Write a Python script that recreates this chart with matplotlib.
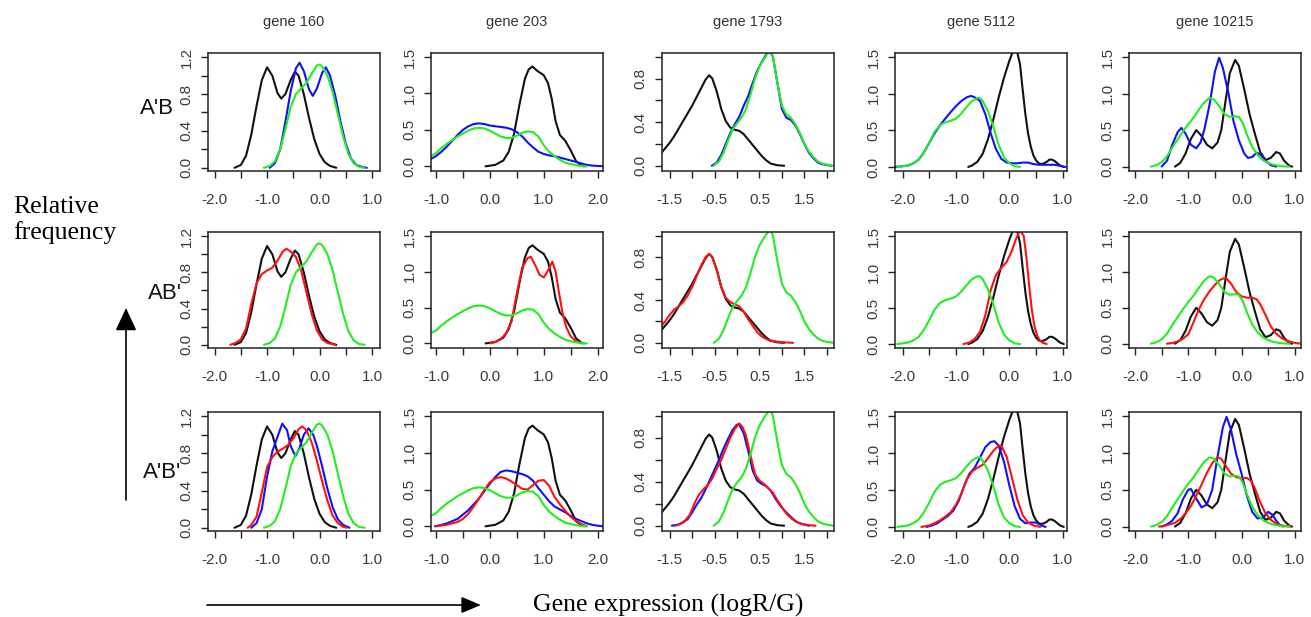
import matplotlib
matplotlib.use("Agg")
import matplotlib.pyplot as plt
from matplotlib.patches import FancyArrowPatch, ArrowStyle

plt.rcParams['font.family'] = ['Liberation Sans', 'DejaVu Sans']

# ---------------- data ----------------
GENES = ['gene 160', 'gene 203', 'gene 1793', 'gene 5112', 'gene 10215']
ROW_LABELS = ["A'B", "AB'", "A'B'"]

X_LIMS = [(-2.125, 1.152), (-1.093, 2.10), (-1.67, 2.16), (-2.143, 1.08), (-2.112, 1.116)]
Y_LIMS = [(-0.035, 1.245), (-0.064, 1.555), (-0.048, 1.034), (-0.055, 1.555), (-0.06, 1.555)]

X_TICKS = [
    [-2.0, -1.5, -1.0, -0.5, 0.0, 0.5, 1.0],
    [-1.0, -0.5, 0.0, 0.5, 1.0, 1.5, 2.0],
    [-1.5, -1.0, -0.5, 0.0, 0.5, 1.0, 1.5, 2.0],
    [-2.0, -1.5, -1.0, -0.5, 0.0, 0.5, 1.0],
    [-2.0, -1.5, -1.0, -0.5, 0.0, 0.5, 1.0],
]
X_TICK_LABELS = [
    ['-2.0', '', '-1.0', '', '0.0', '', '1.0'],
    ['-1.0', '', '0.0', '', '1.0', '', '2.0'],
    ['-1.5', '', '-0.5', '', '0.5', '', '1.5', ''],
    ['-2.0', '', '-1.0', '', '0.0', '', '1.0'],
    ['-2.0', '', '-1.0', '', '0.0', '', '1.0'],
]
Y_TICKS = [
    [0.0, 0.2, 0.4, 0.6, 0.8, 1.0, 1.2],
    [0.0, 0.5, 1.0, 1.5],
    [0.0, 0.2, 0.4, 0.6, 0.8, 1.0],
    [0.0, 0.5, 1.0, 1.5],
    [0.0, 0.5, 1.0, 1.5],
]
Y_TICK_LABELS = [
    ['0.0', '', '0.4', '', '0.8', '', '1.2'],
    ['0.0', '0.5', '1.0', '1.5'],
    ['0.0', '', '0.4', '', '0.8', ''],
    ['0.0', '0.5', '1.0', '1.5'],
    ['0.0', '0.5', '1.0', '1.5'],
]

# ---- gene 160 ----
BLACK_160 = [(-1.62, 0.0), (-1.5, 0.03), (-1.4, 0.13), (-1.3, 0.36), (-1.2, 0.67), (-1.1, 0.95),
             (-1.0, 1.09), (-0.9, 1.0), (-0.8, 0.81), (-0.73, 0.75), (-0.65, 0.8), (-0.55, 0.95),
             (-0.47, 1.04), (-0.4, 1.0), (-0.3, 0.8), (-0.2, 0.54), (-0.1, 0.31), (0.0, 0.15),
             (0.1, 0.06), (0.2, 0.02), (0.32, 0.0)]
GREEN_160 = [(-1.06, 0.0), (-0.95, 0.02), (-0.85, 0.07), (-0.75, 0.2), (-0.65, 0.42), (-0.55, 0.66),
             (-0.45, 0.8), (-0.35, 0.86), (-0.25, 0.92), (-0.15, 1.02), (-0.05, 1.11), (0.0, 1.12),
             (0.05, 1.1), (0.15, 1.0), (0.25, 0.82), (0.35, 0.58), (0.45, 0.34), (0.55, 0.15),
             (0.65, 0.05), (0.75, 0.01), (0.86, 0.0)]
BLUE1_160 = [(-0.95, 0.0), (-0.85, 0.05), (-0.75, 0.2), (-0.65, 0.5), (-0.55, 0.83), (-0.45, 1.08),
             (-0.38, 1.14), (-0.3, 1.05), (-0.2, 0.85), (-0.13, 0.78), (-0.05, 0.86), (0.05, 1.03),
             (0.12, 1.09), (0.2, 1.0), (0.3, 0.78), (0.4, 0.5), (0.5, 0.26), (0.6, 0.1),
             (0.7, 0.03), (0.8, 0.01), (0.9, 0.0)]
RED2_160 = [(-1.7, 0.0), (-1.6, 0.02), (-1.5, 0.06), (-1.4, 0.18), (-1.3, 0.45), (-1.2, 0.68),
            (-1.1, 0.78), (-1.0, 0.82), (-0.9, 0.85), (-0.8, 0.93), (-0.7, 1.03), (-0.63, 1.06),
            (-0.55, 1.03), (-0.45, 0.97), (-0.35, 0.82), (-0.25, 0.58), (-0.15, 0.34), (-0.05, 0.16),
            (0.05, 0.06), (0.15, 0.02), (0.3, 0.0)]
BLUE3_160 = [(-1.3, 0.0), (-1.2, 0.05), (-1.1, 0.2), (-1.0, 0.55), (-0.9, 0.82), (-0.8, 0.98),
             (-0.71, 1.12), (-0.62, 1.05), (-0.55, 0.88), (-0.46, 0.77), (-0.38, 0.86), (-0.3, 1.0),
             (-0.21, 1.07), (-0.12, 1.0), (-0.05, 0.88), (0.05, 0.66), (0.15, 0.42), (0.25, 0.22),
             (0.35, 0.09), (0.45, 0.03), (0.57, 0.0)]
RED3_160 = [(-1.37, 0.0), (-1.3, 0.03), (-1.2, 0.12), (-1.1, 0.38), (-1.0, 0.65), (-0.9, 0.76),
            (-0.8, 0.82), (-0.7, 0.85), (-0.6, 0.89), (-0.5, 0.96), (-0.4, 1.06), (-0.33, 1.09),
            (-0.25, 1.05), (-0.15, 0.92), (-0.05, 0.72), (0.05, 0.5), (0.15, 0.29), (0.25, 0.13),
            (0.35, 0.05), (0.45, 0.01), (0.52, 0.0)]

# ---- gene 203 ----
BLACK_203 = [(-0.08, 0.0), (0.1, 0.02), (0.25, 0.08), (0.35, 0.2), (0.45, 0.45), (0.55, 0.85),
             (0.65, 1.2), (0.72, 1.33), (0.79, 1.37), (0.88, 1.31), (1.0, 1.25), (1.08, 1.14),
             (1.15, 0.92), (1.22, 0.62), (1.3, 0.43), (1.4, 0.35), (1.5, 0.22), (1.6, 0.07),
             (1.7, 0.01), (1.75, 0.0)]
GREEN_203 = [(-1.2, 0.1), (-1.1, 0.14), (-1.0, 0.18), (-0.9, 0.25), (-0.8, 0.31), (-0.7, 0.36),
             (-0.6, 0.41), (-0.5, 0.45), (-0.4, 0.49), (-0.3, 0.52), (-0.2, 0.53), (-0.1, 0.52),
             (0.0, 0.49), (0.1, 0.45), (0.2, 0.41), (0.3, 0.39), (0.4, 0.39), (0.5, 0.42),
             (0.6, 0.46), (0.7, 0.48), (0.8, 0.47), (0.9, 0.41), (1.0, 0.29), (1.1, 0.2),
             (1.2, 0.14), (1.3, 0.09), (1.4, 0.05), (1.5, 0.03), (1.6, 0.015), (1.7, 0.005), (1.8, 0.0)]
BLUE1_203 = [(-1.2, 0.07), (-1.1, 0.1), (-1.0, 0.14), (-0.9, 0.2), (-0.8, 0.27), (-0.7, 0.35),
             (-0.6, 0.43), (-0.5, 0.5), (-0.4, 0.55), (-0.3, 0.58), (-0.2, 0.59), (-0.1, 0.58),
             (0.0, 0.56), (0.1, 0.55), (0.2, 0.54), (0.3, 0.53), (0.4, 0.51), (0.5, 0.47),
             (0.6, 0.41), (0.7, 0.33), (0.8, 0.26), (0.9, 0.2), (1.0, 0.17), (1.1, 0.15),
             (1.2, 0.14), (1.3, 0.12), (1.4, 0.1), (1.5, 0.08), (1.6, 0.06), (1.7, 0.04),
             (1.8, 0.02), (1.9, 0.01), (2.0, 0.005), (2.2, 0.0)]
RED2_203 = [(0.0, 0.0), (0.1, 0.02), (0.2, 0.06), (0.3, 0.14), (0.4, 0.3), (0.5, 0.7),
            (0.6, 1.06), (0.7, 1.19), (0.76, 1.21), (0.85, 1.08), (0.92, 0.96), (1.0, 0.92),
            (1.08, 1.02), (1.16, 1.14), (1.22, 1.0), (1.28, 0.72), (1.35, 0.42), (1.42, 0.22),
            (1.5, 0.1), (1.6, 0.03), (1.7, 0.0)]
BLUE3_203 = [(-1.02, 0.0), (-0.9, 0.02), (-0.8, 0.04), (-0.6, 0.1), (-0.4, 0.22), (-0.2, 0.38),
             (-0.1, 0.48), (0.0, 0.58), (0.1, 0.67), (0.2, 0.74), (0.3, 0.76), (0.4, 0.75),
             (0.5, 0.73), (0.6, 0.71), (0.7, 0.68), (0.8, 0.62), (0.9, 0.52), (1.0, 0.43),
             (1.1, 0.34), (1.2, 0.27), (1.3, 0.23), (1.4, 0.19), (1.5, 0.14), (1.6, 0.1),
             (1.7, 0.07), (1.8, 0.04), (1.9, 0.02), (2.0, 0.008), (2.1, 0.0)]
RED3_203 = [(-1.0, 0.0), (-0.8, 0.02), (-0.6, 0.06), (-0.5, 0.1), (-0.4, 0.17), (-0.3, 0.27),
            (-0.2, 0.38), (-0.1, 0.5), (0.0, 0.6), (0.1, 0.65), (0.2, 0.67), (0.3, 0.65),
            (0.4, 0.61), (0.5, 0.56), (0.6, 0.51), (0.7, 0.5), (0.8, 0.56), (0.9, 0.62),
            (1.0, 0.63), (1.1, 0.55), (1.2, 0.4), (1.3, 0.3), (1.4, 0.21), (1.5, 0.13),
            (1.6, 0.07), (1.7, 0.03), (1.8, 0.0)]

# ---- gene 1793 ----
BLACK_1793 = [(-1.8, 0.06), (-1.7, 0.11), (-1.6, 0.16), (-1.5, 0.21), (-1.4, 0.27), (-1.3, 0.34),
              (-1.2, 0.41), (-1.1, 0.48), (-1.0, 0.55), (-0.9, 0.63), (-0.8, 0.71), (-0.7, 0.79),
              (-0.62, 0.83), (-0.55, 0.8), (-0.45, 0.68), (-0.35, 0.52), (-0.25, 0.41), (-0.15, 0.35),
              (-0.05, 0.33), (0.05, 0.32), (0.15, 0.29), (0.25, 0.24), (0.35, 0.19), (0.45, 0.14),
              (0.55, 0.09), (0.65, 0.05), (0.75, 0.02), (0.9, 0.005), (1.05, 0.0)]
GREEN_1793 = [(-0.52, 0.0), (-0.4, 0.04), (-0.3, 0.12), (-0.2, 0.23), (-0.1, 0.33), (0.0, 0.39),
              (0.1, 0.44), (0.2, 0.52), (0.3, 0.65), (0.4, 0.8), (0.5, 0.91), (0.6, 0.98),
              (0.7, 1.04), (0.75, 1.05), (0.8, 1.0), (0.9, 0.76), (1.0, 0.55), (1.1, 0.47),
              (1.2, 0.44), (1.3, 0.38), (1.4, 0.3), (1.5, 0.2), (1.6, 0.13), (1.7, 0.08),
              (1.8, 0.04), (1.9, 0.02), (2.0, 0.01), (2.15, 0.0)]
BLUE1_1793 = [(-0.56, 0.0), (-0.45, 0.03), (-0.35, 0.1), (-0.25, 0.2), (-0.15, 0.3), (-0.05, 0.38),
              (0.05, 0.45), (0.15, 0.55), (0.25, 0.64), (0.35, 0.76), (0.45, 0.87), (0.55, 0.95),
              (0.65, 1.02), (0.73, 1.05), (0.8, 1.0), (0.9, 0.76), (1.0, 0.52), (1.1, 0.44),
              (1.2, 0.42), (1.3, 0.37), (1.4, 0.29), (1.5, 0.2), (1.6, 0.12), (1.7, 0.07),
              (1.8, 0.03), (1.9, 0.015), (2.1, 0.0)]
RED2_1793 = [(-1.8, 0.1), (-1.7, 0.15), (-1.6, 0.2), (-1.5, 0.26), (-1.4, 0.31), (-1.3, 0.34),
             (-1.2, 0.38), (-1.1, 0.44), (-1.0, 0.52), (-0.9, 0.62), (-0.8, 0.72), (-0.7, 0.8),
             (-0.62, 0.83), (-0.55, 0.8), (-0.45, 0.68), (-0.35, 0.52), (-0.25, 0.42), (-0.15, 0.38),
             (-0.05, 0.36), (0.05, 0.34), (0.15, 0.29), (0.25, 0.22), (0.35, 0.16), (0.45, 0.1),
             (0.55, 0.06), (0.65, 0.035), (0.75, 0.02), (0.9, 0.01), (1.05, 0.005), (1.25, 0.0)]
BLUE3_1793 = [(-1.45, 0.0), (-1.3, 0.01), (-1.2, 0.03), (-1.1, 0.06), (-1.0, 0.12), (-0.9, 0.19),
              (-0.8, 0.25), (-0.7, 0.33), (-0.6, 0.42), (-0.5, 0.51), (-0.4, 0.6), (-0.3, 0.7),
              (-0.2, 0.79), (-0.1, 0.87), (0.0, 0.92), (0.05, 0.92), (0.15, 0.84), (0.25, 0.68),
              (0.35, 0.5), (0.45, 0.41), (0.55, 0.38), (0.65, 0.36), (0.75, 0.32), (0.85, 0.25),
              (0.95, 0.19), (1.05, 0.14), (1.15, 0.1), (1.25, 0.06), (1.35, 0.03), (1.45, 0.015),
              (1.6, 0.0)]
RED3_1793 = [(-1.37, 0.0), (-1.25, 0.02), (-1.15, 0.05), (-1.05, 0.1), (-0.95, 0.2), (-0.85, 0.28),
             (-0.75, 0.33), (-0.65, 0.37), (-0.55, 0.43), (-0.45, 0.52), (-0.35, 0.6), (-0.25, 0.7),
             (-0.15, 0.8), (-0.05, 0.88), (0.05, 0.93), (0.12, 0.9), (0.2, 0.82), (0.3, 0.64),
             (0.4, 0.47), (0.5, 0.41), (0.6, 0.38), (0.7, 0.34), (0.8, 0.3), (0.9, 0.23),
             (1.0, 0.17), (1.1, 0.11), (1.2, 0.07), (1.3, 0.04), (1.45, 0.015), (1.6, 0.005),
             (1.75, 0.0)]

# ---- gene 5112 ----
BLACK_5112 = [(-0.77, 0.0), (-0.7, 0.02), (-0.6, 0.07), (-0.5, 0.18), (-0.4, 0.38), (-0.3, 0.65),
              (-0.2, 0.95), (-0.1, 1.22), (0.0, 1.45), (0.08, 1.6), (0.13, 1.62), (0.2, 1.4),
              (0.25, 1.05), (0.3, 0.72), (0.35, 0.46), (0.4, 0.28), (0.45, 0.16), (0.5, 0.09),
              (0.55, 0.05), (0.6, 0.04), (0.65, 0.05), (0.7, 0.07), (0.75, 0.1), (0.8, 0.1),
              (0.85, 0.08), (0.9, 0.05), (0.95, 0.02), (1.02, 0.0)]
GREEN_5112 = [(-2.1, 0.0), (-2.0, 0.01), (-1.9, 0.02), (-1.8, 0.05), (-1.7, 0.1), (-1.6, 0.2),
              (-1.5, 0.33), (-1.4, 0.48), (-1.3, 0.57), (-1.2, 0.61), (-1.1, 0.63), (-1.0, 0.66),
              (-0.9, 0.73), (-0.8, 0.82), (-0.7, 0.9), (-0.6, 0.94), (-0.55, 0.94), (-0.5, 0.9),
              (-0.4, 0.76), (-0.3, 0.55), (-0.2, 0.3), (-0.1, 0.13), (0.0, 0.05), (0.1, 0.01),
              (0.2, 0.0)]
BLUE1_5112 = [(-2.15, 0.0), (-2.0, 0.01), (-1.9, 0.02), (-1.8, 0.05), (-1.7, 0.1), (-1.6, 0.2),
              (-1.5, 0.33), (-1.4, 0.46), (-1.3, 0.57), (-1.2, 0.66), (-1.1, 0.75), (-1.0, 0.83),
              (-0.9, 0.9), (-0.8, 0.95), (-0.72, 0.97), (-0.65, 0.95), (-0.55, 0.9), (-0.45, 0.72),
              (-0.35, 0.46), (-0.25, 0.24), (-0.15, 0.11), (-0.05, 0.06), (0.05, 0.05), (0.15, 0.05),
              (0.25, 0.06), (0.35, 0.06), (0.45, 0.04), (0.55, 0.03), (0.65, 0.03), (0.75, 0.03),
              (0.85, 0.03), (0.95, 0.015), (1.05, 0.0)]
RED2_5112 = [(-0.86, 0.0), (-0.75, 0.02), (-0.65, 0.07), (-0.55, 0.17), (-0.45, 0.4), (-0.35, 0.75),
             (-0.25, 0.96), (-0.15, 1.06), (-0.05, 1.14), (0.05, 1.3), (0.12, 1.45), (0.2, 1.58),
             (0.27, 1.5), (0.32, 1.2), (0.37, 0.82), (0.42, 0.48), (0.47, 0.25), (0.52, 0.12),
             (0.57, 0.05), (0.62, 0.02), (0.7, 0.0)]
BLUE3_5112 = [(-1.55, 0.0), (-1.45, 0.02), (-1.35, 0.05), (-1.25, 0.1), (-1.15, 0.15), (-1.05, 0.22),
              (-0.95, 0.35), (-0.85, 0.55), (-0.75, 0.72), (-0.65, 0.8), (-0.55, 0.94), (-0.45, 1.08),
              (-0.35, 1.15), (-0.28, 1.16), (-0.2, 1.1), (-0.1, 0.88), (0.0, 0.56), (0.1, 0.28),
              (0.2, 0.11), (0.3, 0.05), (0.4, 0.06), (0.5, 0.06), (0.6, 0.02), (0.68, 0.0)]
RED3_5112 = [(-1.65, 0.0), (-1.5, 0.02), (-1.4, 0.05), (-1.3, 0.09), (-1.2, 0.14), (-1.1, 0.2),
             (-1.0, 0.3), (-0.9, 0.45), (-0.8, 0.64), (-0.7, 0.75), (-0.6, 0.8), (-0.5, 0.84),
             (-0.4, 0.93), (-0.3, 1.03), (-0.2, 1.1), (-0.15, 1.1), (-0.05, 0.95), (0.05, 0.66),
             (0.15, 0.37), (0.25, 0.16), (0.35, 0.06), (0.45, 0.02), (0.58, 0.0)]

# ---- gene 10215 ----
BLACK_10215 = [(-1.25, 0.0), (-1.15, 0.05), (-1.05, 0.18), (-0.95, 0.38), (-0.85, 0.5), (-0.75, 0.42),
               (-0.65, 0.3), (-0.55, 0.25), (-0.45, 0.33), (-0.38, 0.5), (-0.3, 0.9), (-0.22, 1.28),
               (-0.12, 1.46), (-0.05, 1.38), (0.05, 1.06), (0.15, 0.72), (0.25, 0.45), (0.35, 0.2),
               (0.45, 0.09), (0.55, 0.12), (0.65, 0.2), (0.72, 0.18), (0.8, 0.08), (0.9, 0.01),
               (0.95, 0.0)]
GREEN_10215 = [(-1.7, 0.0), (-1.6, 0.02), (-1.5, 0.06), (-1.4, 0.14), (-1.3, 0.26), (-1.2, 0.37),
               (-1.1, 0.48), (-1.0, 0.58), (-0.9, 0.67), (-0.8, 0.78), (-0.7, 0.88), (-0.6, 0.94),
               (-0.52, 0.92), (-0.42, 0.83), (-0.32, 0.72), (-0.22, 0.68), (-0.12, 0.69), (-0.05, 0.68),
               (0.02, 0.6), (0.1, 0.44), (0.2, 0.27), (0.3, 0.16), (0.4, 0.09), (0.5, 0.05),
               (0.6, 0.025), (0.75, 0.005), (0.9, 0.0)]
BLUE1_10215 = [(-1.5, 0.0), (-1.4, 0.08), (-1.3, 0.3), (-1.2, 0.47), (-1.13, 0.53), (-1.05, 0.45),
               (-0.95, 0.3), (-0.85, 0.25), (-0.77, 0.33), (-0.7, 0.5), (-0.6, 0.85), (-0.5, 1.3),
               (-0.42, 1.49), (-0.35, 1.35), (-0.25, 1.02), (-0.15, 0.62), (-0.05, 0.36), (0.05, 0.18),
               (0.12, 0.12), (0.2, 0.13), (0.28, 0.19), (0.35, 0.17), (0.45, 0.08), (0.55, 0.02),
               (0.65, 0.0)]
RED2_10215 = [(-1.4, 0.0), (-1.3, 0.01), (-1.2, 0.03), (-1.1, 0.07), (-1.0, 0.13), (-0.9, 0.3),
              (-0.8, 0.48), (-0.7, 0.62), (-0.6, 0.73), (-0.5, 0.82), (-0.4, 0.89), (-0.3, 0.92),
              (-0.2, 0.84), (-0.1, 0.72), (0.0, 0.66), (0.1, 0.64), (0.2, 0.64), (0.28, 0.62),
              (0.35, 0.55), (0.45, 0.4), (0.55, 0.24), (0.65, 0.14), (0.75, 0.08), (0.85, 0.04),
              (0.95, 0.02), (1.05, 0.005), (1.15, 0.0)]
BLUE3_10215 = [(-1.5, 0.0), (-1.4, 0.03), (-1.3, 0.08), (-1.2, 0.18), (-1.1, 0.37), (-1.0, 0.5),
               (-0.95, 0.51), (-0.85, 0.38), (-0.75, 0.26), (-0.65, 0.3), (-0.55, 0.5), (-0.45, 0.95),
               (-0.35, 1.35), (-0.28, 1.49), (-0.2, 1.32), (-0.1, 0.98), (0.0, 0.72), (0.1, 0.42),
               (0.2, 0.2), (0.3, 0.11), (0.4, 0.12), (0.5, 0.2), (0.58, 0.16), (0.65, 0.08),
               (0.72, 0.02), (0.78, 0.0)]
RED3_10215 = [(-1.55, 0.0), (-1.45, 0.01), (-1.35, 0.03), (-1.25, 0.05), (-1.15, 0.1), (-1.05, 0.18),
              (-0.95, 0.28), (-0.85, 0.42), (-0.75, 0.57), (-0.65, 0.73), (-0.55, 0.86), (-0.45, 0.94),
              (-0.38, 0.92), (-0.3, 0.83), (-0.2, 0.72), (-0.1, 0.67), (0.0, 0.66), (0.1, 0.66),
              (0.18, 0.62), (0.25, 0.52), (0.35, 0.33), (0.45, 0.18), (0.55, 0.09), (0.65, 0.04),
              (0.75, 0.015), (0.92, 0.0)]

CURVES = [
    {'black': BLACK_160, 'green': GREEN_160, 'blue1': BLUE1_160, 'red2': RED2_160, 'blue3': BLUE3_160, 'red3': RED3_160},
    {'black': BLACK_203, 'green': GREEN_203, 'blue1': BLUE1_203, 'red2': RED2_203, 'blue3': BLUE3_203, 'red3': RED3_203},
    {'black': BLACK_1793, 'green': GREEN_1793, 'blue1': BLUE1_1793, 'red2': RED2_1793, 'blue3': BLUE3_1793, 'red3': RED3_1793},
    {'black': BLACK_5112, 'green': GREEN_5112, 'blue1': BLUE1_5112, 'red2': RED2_5112, 'blue3': BLUE3_5112, 'red3': RED3_5112},
    {'black': BLACK_10215, 'green': GREEN_10215, 'blue1': BLUE1_10215, 'red2': RED2_10215, 'blue3': BLUE3_10215, 'red3': RED3_10215},
]
ROW_CURVES = [['black', 'blue1', 'green'],
              ['black', 'red2', 'green'],
              ['black', 'blue3', 'red3', 'green']]
COLORS = {'black': '#111111', 'blue': '#1010ff', 'red': '#ff1010', 'green': '#20ee20'}

# ---------------- layout (pixels) ----------------
W, H = 1311, 617
COL_LEFT = [208, 431, 662, 895, 1129]
COL_WIDTH = 172
ROW_TOP = [53, 232, 412]
ROW_BOTTOM = [171, 348, 531]

fig = plt.figure(figsize=(W / 100, H / 100), dpi=100, facecolor='white')

for r in range(3):
    for c in range(5):
        top, bottom = ROW_TOP[r], ROW_BOTTOM[r]
        ax = fig.add_axes([COL_LEFT[c] / W, 1 - bottom / H, COL_WIDTH / W, (bottom - top) / H])
        for name in ROW_CURVES[r]:
            pts = CURVES[c][name]
            xs = [p[0] for p in pts]
            ys = [p[1] for p in pts]
            col = COLORS[name.rstrip('123')]
            ax.plot(xs, ys, color=col, lw=1.5, solid_joinstyle='round', solid_capstyle='round')
        ax.set_xlim(*X_LIMS[c])
        ax.set_ylim(*Y_LIMS[c])
        ax.set_xticks(X_TICKS[c])
        ax.set_xticklabels(X_TICK_LABELS[c])
        ax.set_yticks(Y_TICKS[c])
        ax.set_yticklabels(Y_TICK_LABELS[c], rotation=90, va='center')
        ax.tick_params(axis='both', direction='out', length=5, width=1.0,
                       color='#222222', labelcolor='#3a3a3a', labelsize=11)
        ax.tick_params(axis='x', pad=10.5)
        ax.tick_params(axis='y', pad=5.3)
        for sp in ax.spines.values():
            sp.set_linewidth(1.1)
            sp.set_color('#222222')
        if r == 0:
            fig.text((COL_LEFT[c] + COL_WIDTH / 2) / W, 1 - 22 / H, GENES[c],
                     ha='center', va='center', fontsize=10.5, color='#333333')

# row labels
ROW_LABEL_X = [174, 182, 181]
ROW_LABEL_Y = [108, 293, 473]
for lab, x, y in zip(ROW_LABELS, ROW_LABEL_X, ROW_LABEL_Y):
    fig.text(x / W, 1 - y / H, lab, ha='right', va='center', fontsize=16, color='#111111')

serif = ['Liberation Serif', 'DejaVu Serif']
fig.text(13 / W, 1 - 213 / H, 'Relative', ha='left', va='baseline', fontsize=18.5, family=serif)
fig.text(13 / W, 1 - 239 / H, 'frequency', ha='left', va='baseline', fontsize=18.5, family=serif)
fig.text(533 / W, 1 - 612 / H, 'Gene expression (logR/G)', ha='left', va='baseline',
         fontsize=18.5, family=serif)

# arrows
va = FancyArrowPatch((126 / W, 1 - 500 / H), (126 / W, 1 - 308 / H), transform=fig.transFigure,
                     arrowstyle=ArrowStyle('-|>', head_length=1.4, head_width=0.65),
                     mutation_scale=10, lw=1.2, color='black', shrinkA=0, shrinkB=0)
fig.add_artist(va)
ha_ = FancyArrowPatch((207 / W, 1 - 605 / H), (481 / W, 1 - 605 / H), transform=fig.transFigure,
                      arrowstyle=ArrowStyle('-|>', head_length=1.2, head_width=0.5),
                      mutation_scale=10, lw=1.2, color='black', shrinkA=0, shrinkB=0)
fig.add_artist(ha_)

fig.savefig('out.png', dpi=100, facecolor='white')
